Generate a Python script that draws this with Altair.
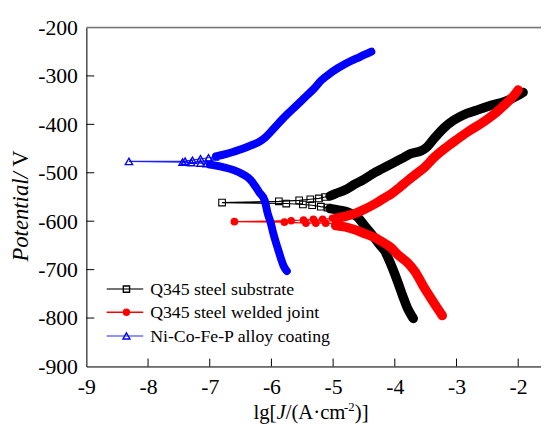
import altair as alt
import pandas as pd

# ---------------- data ----------------
# Q345 steel substrate (black, squares)
BLK_CATH_X = [-5.05, -4.91, -4.75, -4.60, -4.48, -4.35, -4.25, -4.16, -4.08, -4.01, -3.94, -3.87, -3.79, -3.72, -3.70]
BLK_CATH_Y = [-574, -577, -582, -592, -611, -631, -648, -662, -684, -706, -730, -755, -781, -797, -801]
BLK_ANOD_X = [-5.05, -4.96, -4.80, -4.64, -4.52, -4.32, -4.21, -4.00, -3.85, -3.73, -3.58, -3.48, -3.40, -3.30,
              -3.20, -3.05, -2.88, -2.70, -2.45, -2.20, -1.97, -1.92]
BLK_ANOD_Y = [-548, -543, -535, -523, -515, -499, -492, -478, -468, -460, -455, -447, -435, -420,
              -407, -392, -380, -372, -361, -352, -338, -334]
BLK_NEAR_X = [-5.09, -5.20, -5.34, -5.49, -5.76, -6.80, -5.88, -5.55, -5.37, -5.23, -5.13]
BLK_NEAR_Y = [-572, -570, -567, -565.5, -563.5, -561.5, -559, -557, -554.7, -553, -550]

# Q345 steel welded joint (red, circles)
RED_CATH_X = [-4.96, -4.80, -4.64, -4.52, -4.32, -4.24, -4.05, -3.96, -3.80, -3.68, -3.51, -3.42, -3.34, -3.26, -3.23]
RED_CATH_Y = [-609, -612, -618, -624, -634, -640, -656, -668, -685, -703, -740, -758, -774, -789, -795]
RED_ANOD_X = [-4.96, -4.80, -4.64, -4.50, -4.32, -4.18, -4.05, -3.92, -3.79, -3.65, -3.52, -3.36, -3.15,
              -3.00, -2.80, -2.56, -2.40, -2.24, -2.10, -2.00]
RED_ANOD_Y = [-594, -590, -584, -576, -564, -553, -543, -530, -516, -502, -489, -468, -446,
              -432, -414, -395, -380, -362, -345, -329]
RED_NEAR_X = [-4.96, -5.12, -5.28, -5.44, -5.79, -6.60, -5.68, -5.48, -5.32, -5.17, -5.01]
RED_NEAR_Y = [-605, -604, -604, -604, -602, -601, -599, -597.5, -596, -596, -594]

# Ni-Co-Fe-P alloy coating (blue, triangles)
BLU_CATH_X = [-7.00, -6.90, -6.76, -6.60, -6.48, -6.38, -6.31, -6.25, -6.20, -6.11, -6.06, -6.01, -5.97, -5.89, -5.80, -5.75]
BLU_CATH_Y = [-483, -485, -489, -495, -502, -510, -519, -530, -540, -557, -584, -604, -625, -659, -693, -703]
BLU_ANOD_X = [-6.90, -6.76, -6.60, -6.48, -6.34, -6.20, -6.10, -6.00, -5.90, -5.75, -5.60, -5.47, -5.30,
              -5.19, -5.02, -4.80, -4.57, -4.38]
BLU_ANOD_Y = [-466, -462, -456, -451, -444, -436, -427, -414, -400, -380, -362, -346, -325,
              -309, -292, -275, -261, -250]
BLU_NEAR_X = [-7.05, -7.15, -7.30, -7.44, -8.31, -7.40, -7.28, -7.15, -7.02, -6.92]
BLU_NEAR_Y = [-481, -480, -479, -478, -476.5, -476, -474, -471, -469, -467]

SERIES = ["Q345 steel substrate", "Q345 steel welded joint", "Ni-Co-Fe-P alloy coating"]

X_TICKS = [-9, -8, -7, -6, -5, -4, -3, -2]
Y_TICKS = [-900, -800, -700, -600, -500, -400, -300, -200]
X_DOMAIN = [-9, -1.63]
Y_DOMAIN = [-900, -200]

# ---------------- styling ----------------
FONT = "Liberation Serif"
W, H = 460.6, 343.4

xs = alt.Scale(domain=X_DOMAIN, nice=False, zero=False)
ys = alt.Scale(domain=Y_DOMAIN, nice=False, zero=False)
x_axis = alt.Axis(values=X_TICKS, ticks=False, grid=False, title=None, labelFont=FONT,
                  labelFontSize=22, labelColor="black", labelPadding=10, domainColor="black",
                  domainWidth=1, labelExpr="'' + datum.value", labelFlush=False)
y_axis = alt.Axis(values=Y_TICKS, ticks=False, grid=False, title=None, labelFont=FONT,
                  labelFontSize=22, labelColor="black", labelPadding=9, domainColor="black",
                  domainWidth=1, labelExpr="'' + datum.value", labelFlush=False)
X = alt.X("x:Q", scale=xs, axis=x_axis)
Y = alt.Y("y:Q", scale=ys, axis=y_axis)


def build(cx, cy, ax, ay, nx, ny):
    sweep = list(zip(cx, cy))[::-1] + list(zip(nx, ny)) + list(zip(ax, ay))
    full = pd.DataFrame({"x": [p[0] for p in sweep], "y": [p[1] for p in sweep],
                         "o": list(range(len(sweep)))})
    band = pd.DataFrame({"x": list(cx) + list(ax), "y": list(cy) + list(ay),
                         "b": ["c"] * len(cx) + ["a"] * len(ax),
                         "o": list(range(len(cx))) + list(range(len(ax)))})
    near = pd.DataFrame({"x": nx, "y": ny})
    return full, band, near


def curve(data, color, line_color, band_w, mshape, mfilled, msize, mstroke):
    full, band, near = data
    thin = alt.Chart(full).mark_line(color=line_color, strokeWidth=1.2).encode(x=X, y=Y, order="o:Q")
    thick = alt.Chart(band).mark_line(color=color, strokeWidth=band_w, strokeCap="round",
                                       strokeJoin="round", interpolate="monotone").encode(
        x=X, y=Y, detail="b:N", order="o:Q")
    if mfilled:
        pts = alt.Chart(near).mark_point(shape=mshape, filled=True, color=color, size=msize, opacity=1)
    else:
        pts = alt.Chart(near).mark_point(shape=mshape, filled=False, color=color, size=msize,
                                         strokeWidth=mstroke, opacity=1)
    return [thin, thick, pts.encode(x=X, y=Y)]


blk = build(BLK_CATH_X, BLK_CATH_Y, BLK_ANOD_X, BLK_ANOD_Y, BLK_NEAR_X, BLK_NEAR_Y)
red = build(RED_CATH_X, RED_CATH_Y, RED_ANOD_X, RED_ANOD_Y, RED_NEAR_X, RED_NEAR_Y)
blu = build(BLU_CATH_X, BLU_CATH_Y, BLU_ANOD_X, BLU_ANOD_Y, BLU_NEAR_X, BLU_NEAR_Y)

layers = []
layers += curve(blk, "#000000", "#000000", 9.5, "square", False, 45, 1.1)
layers += curve(red, "#ff0000", "#ff0000", 9.5, "circle", True, 60, 1)
layers += curve(blu, "#0000ff", "#2020ff", 8, "triangle-up", False, 55, 1.4)

# inward ticks
xt = pd.DataFrame({"x": X_TICKS[1:]})
yt = pd.DataFrame({"y": Y_TICKS[1:-1]})
layers.append(alt.Chart(xt).mark_rule(color="black", strokeWidth=1).encode(
    x=X, y=alt.value(H), y2=alt.value(H - 8)))
layers.append(alt.Chart(yt).mark_rule(color="black", strokeWidth=1).encode(
    y=Y, x=alt.value(0), x2=alt.value(8)))

one = pd.DataFrame({"k": [0]})
# top frame line
layers.append(alt.Chart(one).mark_rule(color="#777777", strokeWidth=1.5).encode(
    x=alt.value(0), x2=alt.value(W), y=alt.value(0)))


def txt(s, x, y, size, italic=False, angle=0, align="left"):
    return alt.Chart(one).mark_text(text=s, font=FONT, fontSize=size, color="black",
                                    fontStyle="italic" if italic else "normal", angle=angle,
                                    align=align, baseline="alphabetic").encode(
        x=alt.value(x), y=alt.value(y))


# x axis title: lg[J/(A·cm^-2)]
layers.append(txt("lg[", 169.3, 397, 21))
layers.append(txt("J", 192.6, 397, 21, italic=True))
layers.append(txt("/(A·cm", 201.9, 397, 21))
layers.append(txt("-2", 261.0, 389, 13))
layers.append(txt(")]", 272.0, 397, 21))
# y axis title: Potential/ V
layers.append(txt("Potential/", -59, 146.5, 23, italic=True, angle=270, align="right"))
layers.append(txt("V", -59, 141, 23, angle=270, align="left"))

# legend
LEG_ROWS = [265, 288.5, 312.5]
LEG_LINE = ["#444444", "#ff0000", "#6f6fff"]
LEG_MARK = [("square", False, "#000000", 40), ("circle", True, "#ff0000", 55), ("triangle-up", False, "#0000ff", 50)]
for i, name in enumerate(SERIES):
    yy = LEG_ROWS[i]
    layers.append(alt.Chart(one).mark_rule(color=LEG_LINE[i], strokeWidth=1.5).encode(
        x=alt.value(20.6), x2=alt.value(57.6), y=alt.value(yy)))
    shp, fil, col, sz = LEG_MARK[i]
    if fil:
        mk = alt.Chart(one).mark_point(shape=shp, filled=True, color=col, size=sz, opacity=1)
    else:
        mk = alt.Chart(one).mark_point(shape=shp, filled=False, color=col, size=sz, strokeWidth=1.4, opacity=1)
    layers.append(mk.encode(x=alt.value(40.6), y=alt.value(yy)))
    layers.append(alt.Chart(one).mark_text(text=name, font=FONT, fontSize=18, color="black",
                                           align="left", baseline="middle").encode(
        x=alt.value(64.6), y=alt.value(yy + 1)))

chart = alt.layer(*layers).properties(
    width=W, height=H,
    autosize=alt.AutoSizeParams(type="none"),
    padding={"left": 79.4, "top": 17, "right": 0, "bottom": 62},
).configure_view(stroke="transparent").configure_axis(
    labelFont=FONT, labelFontSize=22, labelColor="black"
).configure(font=FONT)

chart.save("out.html", embed_options={"renderer": "svg", "actions": False})
